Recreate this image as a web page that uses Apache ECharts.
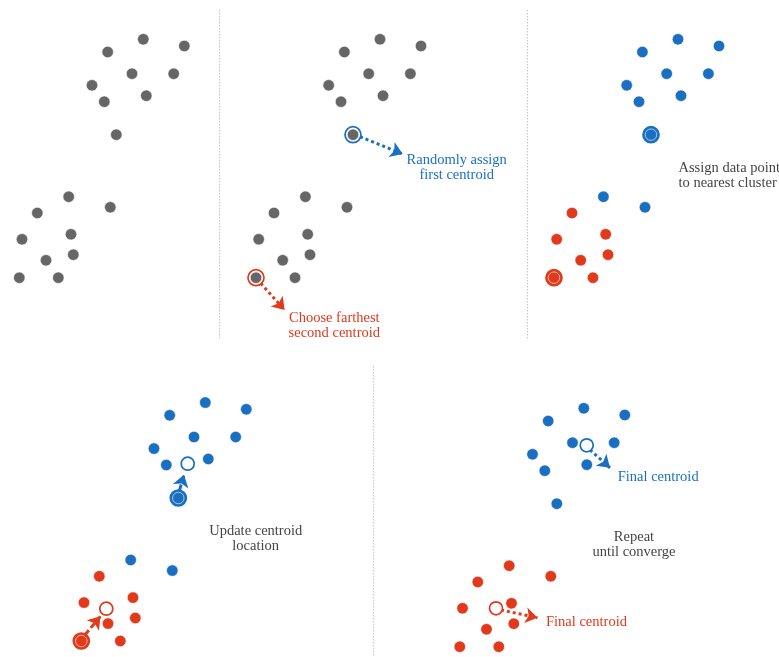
<!DOCTYPE html>
<html><head><meta charset="utf-8">
<script src="https://cdn.jsdelivr.net/npm/echarts@6/dist/echarts.min.js"></script>
<style>html,body{margin:0;padding:0;background:#fff}#c{width:779px;height:657px}</style>
</head><body><div id="c"></div>
<script>
// Base point positions (shared by every panel), in panel data units (y grows downward)
const pointX = [143.3,184.3,107.7,132,173.7,92,104.3,146.3,116.3, 68.7,110.3,37.3,22,71,73.3,46,19.3,58.3];
const pointY = [39.3,46,52,73.7,73.7,85.3,101.7,95.7,134.7, 196.7,207.3,213,239.3,234.3,254.7,260.3,277.7,277.7];
// cluster labels: 0 = blue, 1 = red
const assignFirst = [0,0,0,0,0,0,0,0,0, 0,0,1,1,1,1,1,1,1];
const assignFinal = [0,0,0,0,0,0,0,0,0, 1,1,1,1,1,1,1,1,1];
// initial centroids (indices into points): blue, red
const initCentroids = [8, 16];
// updated centroid after one iteration
const updatedCentroidX = [125.7, 44.3];
const updatedCentroidY = [100.4, 245.4];
// final centroids
const finalCentroidX = [146.2, 55.5];
const finalCentroidY = [76.3, 239.3];
// arrows [x1,y1,x2,y2] per panel
const arrowsP2 = [[123.3,136.7,166,154],[24,283.3,48,310]];
const arrowsP4 = [[117.5,127,122,111.5],[23,271.5,38.5,253]];
const arrowsP5 = [[149.5,81,169.5,98.8],[60.5,241,97,248.7]];

const GRAY = '#666666', BLUE = '#1a6fc1', RED = '#e0391c', TXT = '#444444';
const CL = [BLUE, RED];
const panelPos = [[0,0],[236.7,0],[534.7,0],[62,363.3],[440.5,369]];

const grids = [], xAxes = [], yAxes = [], series = [];
panelPos.forEach((p,i)=>{
  grids.push({left:p[0], top:p[1], width:200, height:285, outerBoundsMode:'none', containLabel:false});
  xAxes.push({gridIndex:i, type:'value', min:0, max:200, show:false});
  yAxes.push({gridIndex:i, type:'value', min:0, max:285, inverse:true, show:false});
});
const pts = (idx, filterFn) => pointX.map((x,k)=>[x,pointY[k],k]).filter(d=>filterFn(d[2]));
function dots(gi, color, data, z){
  series.push({type:'scatter', xAxisIndex:gi, yAxisIndex:gi, symbol:'circle', symbolSize:11.5,
    data:data, z:z||3, silent:true, clip:false,
    itemStyle:{color:color, opacity:1, borderColor:'#ffffff', borderWidth:0.6}});
}
function ring(gi, color, k, filledOuter){
  series.push({type:'scatter', xAxisIndex:gi, yAxisIndex:gi, symbol:'circle', symbolSize:16, z:2, silent:true, clip:false,
    data:[[pointX[k],pointY[k]]],
    itemStyle:{opacity:1, color: filledOuter? color : '#ffffff', borderColor:color, borderWidth:1.7}});
}
function hollow(gi, xs, ys){
  xs.forEach((x,c)=>series.push({type:'scatter', xAxisIndex:gi, yAxisIndex:gi, symbol:'circle', symbolSize:13, z:5, silent:true, clip:false,
    data:[[x,ys[c]]], itemStyle:{opacity:1, color:'#ffffff', borderColor:CL[c], borderWidth:1.7}}));
}
function arrows(gi, arr, dash){
  arr.forEach((a,c)=>series.push({type:'lines', coordinateSystem:'cartesian2d', xAxisIndex:gi, yAxisIndex:gi, z:4, silent:true, clip:false,
    symbol:['none','arrow'], symbolSize:[10,12],
    lineStyle:{color:CL[c], width:3, type:dash, opacity:1},
    data:[{coords:[[a[0],a[1]],[a[2],a[3]]]}]}));
}
// Panel 1
dots(0, GRAY, pts(0,()=>true));
// Panel 2
initCentroids.forEach((k,c)=>ring(1, CL[c], k, false));
dots(1, GRAY, pts(1,()=>true));
arrows(1, arrowsP2, [3,3]);
// Panel 3
initCentroids.forEach((k,c)=>ring(2, CL[c], k, true));
dots(2, BLUE, pts(2,k=>assignFirst[k]===0));
dots(2, RED, pts(2,k=>assignFirst[k]===1));
// Panel 4
initCentroids.forEach((k,c)=>ring(3, CL[c], k, true));
dots(3, BLUE, pts(3,k=>assignFirst[k]===0));
dots(3, RED, pts(3,k=>assignFirst[k]===1));
hollow(3, updatedCentroidX, updatedCentroidY);
arrows(3, arrowsP4, [6,3]);
// Panel 5
dots(4, BLUE, pts(4,k=>assignFinal[k]===0));
dots(4, RED, pts(4,k=>assignFinal[k]===1));
hollow(4, finalCentroidX, finalCentroidY);
arrows(4, arrowsP5, [3,3]);

const FONT = '"Liberation Serif", "DejaVu Serif", serif';
function txt(x,y,s,color,align){
  return {type:'text', x:x, y:y, z:10, style:{text:s, fill:color, font:'14.5px '+FONT, textAlign:align||'center', textVerticalAlign:'middle', lineHeight:15.5}};
}
function vline(x,y1,y2){
  return {type:'line', shape:{x1:x,y1:y1,x2:x,y2:y2}, style:{stroke:'#c8c8c8', lineWidth:1.2, lineDash:[1.5,1.5]}};
}
const chart = echarts.init(document.getElementById('c'));
chart.setOption({
  animation:false,
  grid:grids, xAxis:xAxes, yAxis:yAxes, series:series,
  graphic:[
    vline(219.5,10,340), vline(527.5,10,340), vline(373.5,366,657),
    txt(456.7,167.5,'Randomly assign\nfirst centroid',BLUE),
    txt(334.3,325.5,'Choose farthest\nsecond centroid',RED),
    txt(678.5,175.5,'Assign data point\nto nearest cluster',TXT,'left'),
    txt(255.7,538.7,'Update centroid\nlocation',TXT),
    txt(634,544.5,'Repeat\nuntil converge',TXT),
    txt(617.7,477.3,'Final centroid',BLUE,'left'),
    txt(546,621.7,'Final centroid',RED,'left')
  ]
});
</script></body></html>
